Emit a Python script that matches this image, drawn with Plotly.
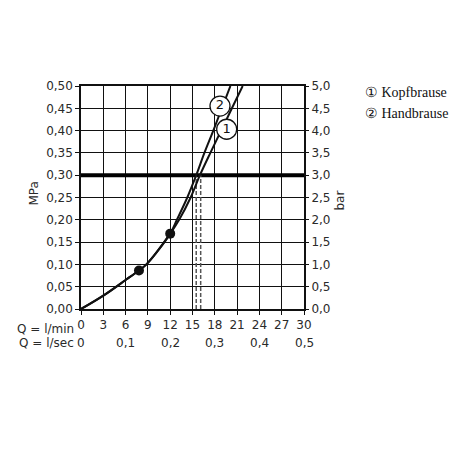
import plotly.graph_objects as go

# ---- data ----
q_common = [0, 3, 6, 7.8, 8.8, 12.0]
p_common = [0, 0.03, 0.065, 0.0865, 0.10, 0.169]

q_kopf = [13.2, 14.75, 16.0, 17.4, 18.85, 20.3, 21.75]   # curve 1
p_kopf = [0.20, 0.25, 0.30, 0.35, 0.40, 0.45, 0.50]

q_hand = [12.9, 14.3, 15.5, 16.6, 17.8, 18.95, 20.1]   # curve 2
p_hand = [0.20, 0.25, 0.30, 0.35, 0.40, 0.45, 0.50]

q_dots = [7.8, 12.0]
p_dots = [0.0865, 0.169]

q_dash = [15.5, 16.1]
p_limit = 0.30

q_labels = [19.6, 18.7]
p_labels = [0.403, 0.455]
label_text = ["1", "2"]

lmin_ticks = [0, 3, 6, 9, 12, 15, 18, 21, 24, 27, 30]
lsec_vals = [0, 0.1, 0.2, 0.3, 0.4, 0.5]
lsec_text = ["0", "0,1", "0,2", "0,3", "0,4", "0,5"]

mpa_ticks = [0, 0.05, 0.10, 0.15, 0.20, 0.25, 0.30, 0.35, 0.40, 0.45, 0.50]
mpa_text = ["0,00", "0,05", "0,10", "0,15", "0,20", "0,25", "0,30", "0,35", "0,40", "0,45", "0,50"]
bar_ticks = [0, 0.5, 1.0, 1.5, 2.0, 2.5, 3.0, 3.5, 4.0, 4.5, 5.0]
bar_text = ["0,0", "0,5", "1,0", "1,5", "2,0", "2,5", "3,0", "3,5", "4,0", "4,5", "5,0"]

legend_items = ["\u2460 Kopfbrause", "\u2461 Handbrause"]

FONT = "DejaVu Sans"
TXT = "#2a2a2a"

fig = go.Figure()

# 0.30 MPa limit line
fig.add_trace(go.Scatter(x=[0, 30], y=[p_limit, p_limit], mode="lines",
                         line=dict(color="black", width=4), hoverinfo="skip"))

# dashed drop lines
for q in q_dash:
    fig.add_trace(go.Scatter(x=[q, q], y=[0, p_limit], mode="lines",
                             line=dict(color="#555", width=1.5, dash="4px,2px"),
                             hoverinfo="skip"))

# curves
fig.add_trace(go.Scatter(x=q_common + q_kopf, y=p_common + p_kopf, mode="lines",
                         line=dict(color="#111", width=2, shape="spline", smoothing=1.0)))
fig.add_trace(go.Scatter(x=q_common + q_hand, y=p_common + p_hand, mode="lines",
                         line=dict(color="#111", width=2, shape="spline", smoothing=1.0)))

# dots
fig.add_trace(go.Scatter(x=q_dots, y=p_dots, mode="markers",
                         marker=dict(color="#111", size=10)))

# circled labels
fig.add_trace(go.Scatter(x=q_labels, y=p_labels, mode="markers+text",
                         text=label_text, textposition="middle center",
                         textfont=dict(family=FONT, size=13, color="#111"),
                         marker=dict(color="white", size=20,
                                     line=dict(color="#111", width=1.3))))

# right axis dummy trace
fig.add_trace(go.Scatter(x=[0], y=[0], yaxis="y2", mode="markers",
                         marker=dict(opacity=0), hoverinfo="skip"))

annotations = []
# l/sec row
for v, t in zip(lsec_vals, lsec_text):
    annotations.append(dict(x=v * 60, y=0, xref="x", yref="paper", text=t,
                            showarrow=False, yanchor="middle", yshift=-34,
                            font=dict(family=FONT, size=12, color=TXT)))
annotations += [
    dict(x=0, y=0, xref="paper", yref="paper", text="Q = l/min", showarrow=False,
         xanchor="right", yanchor="middle", xshift=-5, yshift=-20,
         font=dict(family=FONT, size=12, color=TXT)),
    dict(x=0, y=0, xref="paper", yref="paper", text="Q = l/sec", showarrow=False,
         xanchor="right", yanchor="middle", xshift=-5, yshift=-34,
         font=dict(family=FONT, size=12, color=TXT)),
    dict(x=0, y=0.5, xref="paper", yref="paper", text="MPa", showarrow=False,
         textangle=-90, xanchor="center", yanchor="middle", xshift=-48, yshift=4,
         font=dict(family=FONT, size=12, color=TXT)),
    dict(x=1, y=0.5, xref="paper", yref="paper", text="bar", showarrow=False,
         textangle=-90, xanchor="center", yanchor="middle", xshift=35, yshift=-3,
         font=dict(family=FONT, size=12, color=TXT)),
]
for i, t in enumerate(legend_items):
    annotations.append(dict(x=1, y=1, xref="paper", yref="paper", text=t,
                            showarrow=False, xanchor="left", yanchor="middle",
                            xshift=59, yshift=-6 - 21 * i,
                            font=dict(family="Liberation Serif", size=14, color="#111")))

# page body has an 8px margin, so the figure is 462px with margins reduced by 8
fig.update_layout(
    width=462, height=462,
    margin=dict(l=73, r=166, t=78, b=161),
    paper_bgcolor="white", plot_bgcolor="white",
    showlegend=False,
    annotations=annotations,
    xaxis=dict(range=[0, 30], tickvals=lmin_ticks, ticktext=[str(v) for v in lmin_ticks],
               showgrid=True, gridcolor="#111", gridwidth=1.2,
               showline=True, linecolor="#111", linewidth=1.5, mirror=True,
               ticks="outside", ticklen=4, tickcolor="#111",
               tickfont=dict(family=FONT, size=12, color=TXT), zeroline=False,
               fixedrange=True),
    yaxis=dict(range=[0, 0.5], tickvals=mpa_ticks, ticktext=mpa_text,
               showgrid=True, gridcolor="#111", gridwidth=1.2,
               showline=True, linecolor="#111", linewidth=1.5, mirror=True,
               ticks="outside", ticklen=4, tickcolor="#111",
               tickfont=dict(family=FONT, size=12, color=TXT), zeroline=False),
    yaxis2=dict(range=[0, 5], overlaying="y", side="right", tickvals=bar_ticks,
                ticktext=bar_text, showgrid=False, zeroline=False,
                ticks="outside", ticklen=4, tickcolor="#111",
                tickfont=dict(family=FONT, size=12, color=TXT)),
)

fig.write_html("out.html")
